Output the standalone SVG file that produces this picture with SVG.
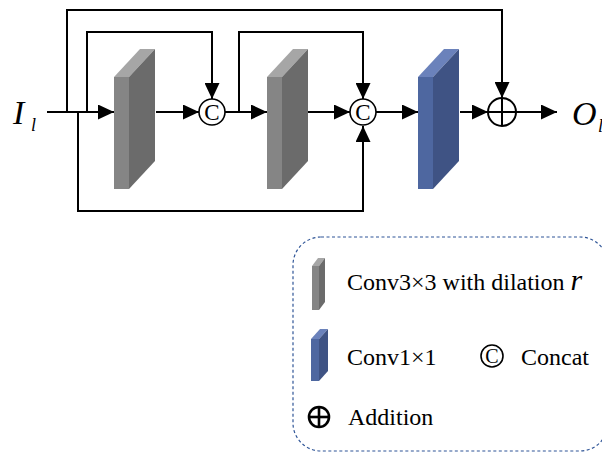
<svg xmlns="http://www.w3.org/2000/svg" width="602" height="454" viewBox="0 0 602 454">
  <style>
    .wire { fill: none; stroke: #000; stroke-width: 2; }
    .arrow { marker-end: url(#head); }
    .g-front { fill: #858585; }
    .g-side { fill: #6b6b6b; }
    .g-top { fill: #a6a6a6; }
    .b-front { fill: #4e67a0; }
    .b-side { fill: #3f5384; }
    .b-top { fill: #6b82bb; }
    .op { fill: #fff; stroke: #000; stroke-width: 1.6; }
    .serif { font-family: "Liberation Serif", "Times New Roman", serif; fill: #000; }
    .it { font-style: italic; }
  </style>
  <defs>
    <marker id="head" markerUnits="userSpaceOnUse" markerWidth="16" markerHeight="15" refX="16" refY="7.5" orient="auto">
      <path d="M0,0 L16,7.5 L0,15 Z" fill="#000"/>
    </marker>
  </defs>
  <rect width="602" height="454" fill="#fff"/>

  <!-- connectors -->
  <g id="connectors">
    <line class="wire" x1="47" y1="112" x2="114" y2="112"/>
    <line class="wire arrow" x1="90" y1="112" x2="114" y2="112"/>
    <polyline class="wire arrow" points="67,112 67,10 502,10 502,98"/>
    <polyline class="wire arrow" points="87,112 87,32 212,32 212,99"/>
    <polyline class="wire arrow" points="78,112 78,211 363,211 363,126"/>
    <line class="wire arrow" x1="156" y1="112" x2="199" y2="112"/>
    <line class="wire arrow" x1="225" y1="112" x2="267" y2="112"/>
    <polyline class="wire arrow" points="239,112 239,32 363,32 363,99"/>
    <line class="wire arrow" x1="308" y1="112" x2="350" y2="112"/>
    <line class="wire arrow" x1="376" y1="112" x2="418" y2="112"/>
    <line class="wire arrow" x1="460" y1="112" x2="488" y2="112"/>
    <line class="wire arrow" x1="516" y1="112" x2="557" y2="112"/>
  </g>

  <!-- input / output labels -->
  <g id="input">
    <text class="serif it" x="13" y="124" font-size="34">I</text>
    <text class="serif it" x="31" y="131" font-size="18">l</text>
  </g>
  <g id="output">
    <text class="serif it" x="572" y="125" font-size="34">O</text>
    <text class="serif it" x="598" y="132" font-size="18">l</text>
  </g>

  <!-- dilated conv block 1 -->
  <g id="conv1">
    <polygon class="g-top" points="114,77 129,77 155,49 140,49"/>
    <polygon class="g-side" points="129,77 155,49 155,161 129,189"/>
    <rect class="g-front" x="114" y="77" width="15" height="112"/>
  </g>

  <!-- concat 1 -->
  <g id="concat1">
    <circle class="op" cx="212" cy="112" r="13"/>
    <text class="serif" x="212" y="120" font-size="23" text-anchor="middle">C</text>
  </g>

  <!-- dilated conv block 2 -->
  <g id="conv2">
    <polygon class="g-top" points="267,77 282,77 308,49 293,49"/>
    <polygon class="g-side" points="282,77 308,49 308,161 282,189"/>
    <rect class="g-front" x="267" y="77" width="15" height="112"/>
  </g>

  <!-- concat 2 -->
  <g id="concat2">
    <circle class="op" cx="363" cy="112" r="13"/>
    <text class="serif" x="363" y="120" font-size="23" text-anchor="middle">C</text>
  </g>

  <!-- 1x1 conv block -->
  <g id="conv1x1">
    <polygon class="b-top" points="418,77 433,77 459,49 444,49"/>
    <polygon class="b-side" points="433,77 459,49 459,161 433,189"/>
    <rect class="b-front" x="418" y="77" width="15" height="112"/>
  </g>

  <!-- addition -->
  <g id="add">
    <circle cx="502" cy="112" r="14" fill="#fff" stroke="#000" stroke-width="2"/>
    <line x1="488" y1="112" x2="516" y2="112" stroke="#000" stroke-width="2"/>
    <line x1="502" y1="98" x2="502" y2="126" stroke="#000" stroke-width="2"/>
  </g>

  <!-- legend -->
  <g id="legend">
    <rect x="293" y="237" width="315" height="214" rx="28" ry="28" fill="none" stroke="#2f5597" stroke-width="1.2" stroke-dasharray="3 2.5"/>

    <polygon class="g-top" points="312,266 319,266 325,258 318,258"/>
    <polygon class="g-side" points="319,266 325,258 325,302 319,310"/>
    <rect class="g-front" x="312" y="266" width="7" height="44"/>
    <text class="serif" x="347" y="290" font-size="24">Conv3×3 with dilation <tspan class="it" font-size="30">r</tspan></text>

    <polygon class="b-top" points="311,339 319,339 328,329 320,329"/>
    <polygon class="b-side" points="319,339 328,329 328,371 319,381"/>
    <rect class="b-front" x="311" y="339" width="8" height="42"/>
    <text class="serif" x="347" y="365" font-size="24">Conv1×1</text>

    <circle class="op" cx="492" cy="356" r="11"/>
    <text class="serif" x="492" y="363" font-size="20" text-anchor="middle">C</text>
    <text class="serif" x="521" y="365" font-size="24">Concat</text>

    <circle cx="319" cy="417" r="10" fill="#fff" stroke="#000" stroke-width="2.6"/>
    <line x1="309" y1="417" x2="329" y2="417" stroke="#000" stroke-width="2.6"/>
    <line x1="319" y1="407" x2="319" y2="427" stroke="#000" stroke-width="2.6"/>
    <text class="serif" x="348" y="425" font-size="24">Addition</text>
  </g>
</svg>
